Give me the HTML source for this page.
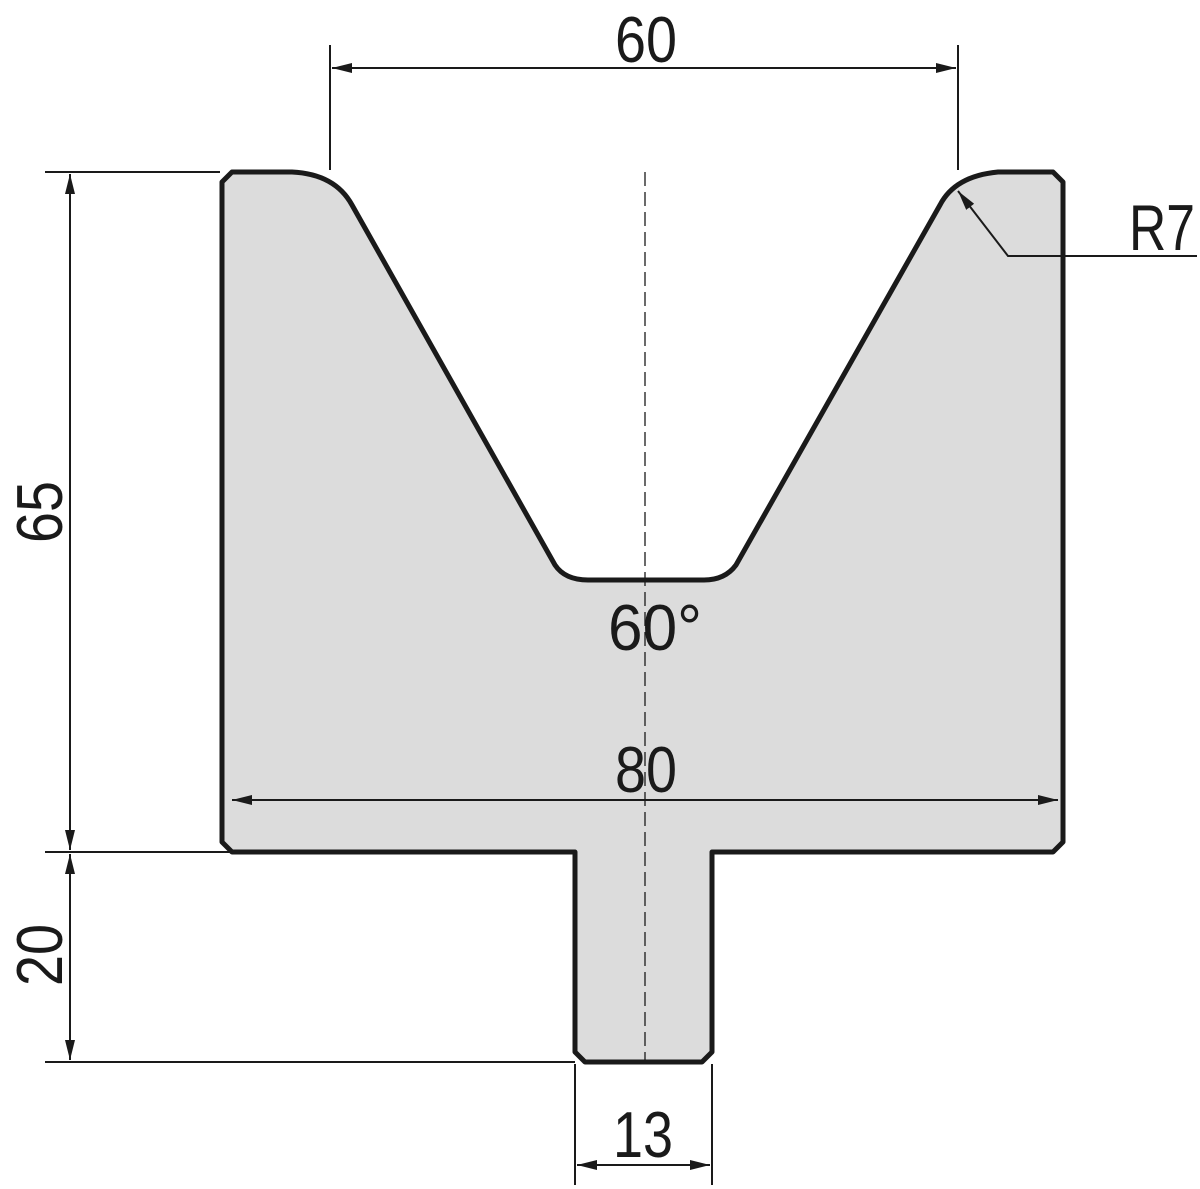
<!DOCTYPE html>
<html><head><style>body{margin:0;background:#fff}svg{display:block}</style></head><body>
<svg width="1200" height="1189" viewBox="0 0 1200 1189" xmlns="http://www.w3.org/2000/svg">
<defs><marker id="a" viewBox="0 0 20 10" refX="20" refY="5" markerWidth="20" markerHeight="10" markerUnits="userSpaceOnUse" orient="auto-start-reverse"><path d="M0,0 L20,5 L0,10 Z" fill="#1a1a1a"/></marker></defs>
<path d="M232,172 L292,172 Q335,174 352,205 L555,565 Q565,580 588,580 L704,580 Q725,580 736,565 L940,205 Q955,176 998,172 L1053,172 L1063,182 L1063,842 L1053,852 L712,852 L712,1052 L702,1062 L585,1062 L575,1052 L575,852 L232,852 L222,842 L222,182 Z" fill="#dcdcdc" stroke="#1a1a1a" stroke-width="5" stroke-linejoin="round"/>
<g stroke="#1a1a1a" stroke-width="2" fill="none">
<line x1="645" y1="172" x2="645" y2="1062" stroke-dasharray="14,6" stroke-width="1.3"/>
<line x1="330" y1="45" x2="330" y2="170"/><line x1="958" y1="45" x2="958" y2="170"/>
<line x1="332" y1="68" x2="956" y2="68" marker-start="url(#a)" marker-end="url(#a)"/>
<line x1="45" y1="172" x2="220" y2="172"/><line x1="45" y1="852" x2="575" y2="852"/><line x1="45" y1="1062" x2="575" y2="1062"/>
<line x1="70" y1="174" x2="70" y2="850" marker-start="url(#a)" marker-end="url(#a)"/>
<line x1="70" y1="854" x2="70" y2="1060" marker-start="url(#a)" marker-end="url(#a)"/>
<line x1="575" y1="1064" x2="575" y2="1185"/><line x1="712" y1="1064" x2="712" y2="1185"/>
<line x1="577" y1="1165" x2="710" y2="1165" marker-start="url(#a)" marker-end="url(#a)"/>
<line x1="232" y1="800" x2="1058" y2="800" marker-start="url(#a)" marker-end="url(#a)"/>
<polyline points="1197,256 1008,256 958,191" marker-end="url(#a)"/>
</g>
<g font-family="'Liberation Sans Narrow','Liberation Sans',sans-serif" font-size="65" fill="#1a1a1a" text-anchor="middle">
<text x="646" y="62" textLength="62" lengthAdjust="spacingAndGlyphs">60</text>
<text x="646" y="792" textLength="62" lengthAdjust="spacingAndGlyphs">80</text>
<text x="655" y="650" textLength="94" lengthAdjust="spacingAndGlyphs">60°</text>
<text x="643" y="1157" textLength="60" lengthAdjust="spacingAndGlyphs">13</text>
<text x="1162" y="250" textLength="66" lengthAdjust="spacingAndGlyphs">R7</text>
<text transform="translate(62,512) rotate(-90)" textLength="62" lengthAdjust="spacingAndGlyphs">65</text>
<text transform="translate(62,955) rotate(-90)" textLength="62" lengthAdjust="spacingAndGlyphs">20</text>
</g>
</svg>
</body></html>
